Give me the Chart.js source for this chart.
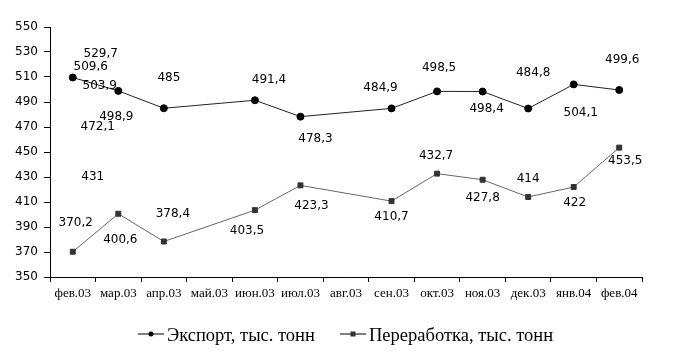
<!DOCTYPE html>
<html>
<head>
<meta charset="utf-8">
<script src="https://cdn.jsdelivr.net/npm/chart.js@4/dist/chart.umd.min.js"></script>
<style>
  body { margin: 0; background: #fff; }
  #wrap { width: 674px; height: 363px; }
</style>
</head>
<body>
<div id="wrap"><canvas id="chart" width="674" height="363"></canvas></div>
<script>
// Months on the x axis
const months = ['фев.03', 'мар.03', 'апр.03', 'май.03', 'июн.03', 'июл.03', 'авг.03',
                'сен.03', 'окт.03', 'ноя.03', 'дек.03', 'янв.04', 'фев.04'];

// Series values (тыс. тонн), no data for май.03 and авг.03
const exportValues = [509.6, 498.9, 485, null, 491.4, 478.3, null, 484.9, 498.5, 498.4, 484.8, 504.1, 499.6];
const processingValues = [370.2, 400.6, 378.4, null, 403.5, 423.3, null, 410.7, 432.7, 427.8, 414, 422, 453.5];

// Y axis ticks
const yMin = 350, yMax = 550, yStep = 20;

// Stray value labels that sit near the first points in the original
const strayLabels = [
    { text: '529,7', series: 0, index: 0 },
    { text: '503,9', series: 0, index: 0 },
    { text: '472,1', series: 0, index: 0 },
    { text: '431', series: 1, index: 0 }
];

// label placement relative to its point, px
const exportLabelOffsets = [[18, -11], [-2, 26], [5, -30], null, [14, -20], [15, 22], null,
                            [-11, -21], [2, -24], [4, 17], [5, -36], [7, 28], [3, -30]];
const processingLabelOffsets = [[3, -29], [2, 26], [9, -28], null, [-8, 21], [11, 20], null,
                                [0, 16], [-1, -18], [0, 18], [0, -18], [1, 16], [6, 13]];
const strayOffsets = [[28, -24], [27, 8], [25, 49], [20, -75]];

const fmt = v => String(v).replace('.', ',');

// Draw the value labels next to the points
const valueLabels = {
    id: 'valueLabels',
    afterDatasetsDraw(chart) {
        const ctx = chart.ctx;
        const offsets = [exportLabelOffsets, processingLabelOffsets];
        ctx.save();
        ctx.font = '12px "DejaVu Sans"';
        ctx.fillStyle = '#000';
        ctx.textAlign = 'center';
        ctx.textBaseline = 'middle';
        chart.data.datasets.forEach((ds, di) => {
            const meta = chart.getDatasetMeta(di);
            ds.data.forEach((v, i) => {
                if (v === null || !offsets[di][i]) return;
                const el = meta.data[i];
                ctx.fillText(fmt(v), el.x + offsets[di][i][0], el.y + offsets[di][i][1]);
            });
        });
        strayLabels.forEach((s, k) => {
            const el = chart.getDatasetMeta(s.series).data[s.index];
            ctx.fillText(s.text, el.x + strayOffsets[k][0], el.y + strayOffsets[k][1]);
        });
        ctx.restore();
    }
};

// Legend with line + marker, like the spreadsheet one
const lineLegend = {
    id: 'lineLegend',
    afterDraw(chart) {
        const ctx = chart.ctx;
        const y = 334;
        const items = [{ x: 138 }, { x: 340 }];
        ctx.save();
        ctx.font = '18.5px "Liberation Serif"';
        ctx.textBaseline = 'middle';
        chart.data.datasets.forEach((ds, i) => {
            const x = items[i].x;
            ctx.strokeStyle = '#000';
            ctx.lineWidth = 1;
            ctx.beginPath();
            ctx.moveTo(x, y);
            ctx.lineTo(x + 26, y);
            ctx.stroke();
            ctx.fillStyle = ds.pointBackgroundColor;
            if (ds.pointStyle === 'rect') {
                ctx.fillRect(x + 10.5, y - 2.5, 5, 5);
            } else {
                ctx.beginPath();
                ctx.arc(x + 13, y, 2.5, 0, Math.PI * 2);
                ctx.fill();
            }
            ctx.fillStyle = '#000';
            ctx.fillText(ds.label, x + 29, y + 2);
        });
        ctx.restore();
    }
};

new Chart(document.getElementById('chart'), {
    type: 'line',
    data: {
        labels: months,
        datasets: [{
            label: 'Экспорт, тыс. тонн',
            data: exportValues,
            borderColor: '#222',
            borderWidth: 1,
            pointStyle: 'circle',
            pointRadius: 3.5,
            pointBackgroundColor: '#000',
            pointBorderColor: '#000',
            pointBorderWidth: 1,
            spanGaps: true,
            tension: 0
        }, {
            label: 'Переработка, тыс. тонн',
            data: processingValues,
            borderColor: '#666',
            borderWidth: 1,
            pointStyle: 'rect',
            pointRadius: 3.5,
            pointBackgroundColor: '#333',
            pointBorderColor: '#333',
            pointBorderWidth: 1,
            spanGaps: true,
            tension: 0
        }]
    },
    options: {
        responsive: false,
        animation: false,
        layout: { padding: { top: 27, right: 32, left: 0, bottom: 0 } },
        scales: {
            x: {
                offset: true,
                grid: { offset: true, drawOnChartArea: false, drawTicks: true, tickLength: 5, color: '#000' },
                border: { display: true, color: '#000' },
                ticks: {
                    color: '#000',
                    font: { family: 'Liberation Serif', size: 13 },
                    maxRotation: 0,
                    autoSkip: false,
                    padding: 4
                },
                afterFit(scale) { scale.height = 86; }
            },
            y: {
                min: yMin,
                max: yMax,
                grid: { drawOnChartArea: false, drawTicks: true, tickLength: 6, color: '#000' },
                border: { display: true, color: '#000' },
                ticks: {
                    stepSize: yStep,
                    color: '#000',
                    font: { family: 'DejaVu Sans', size: 12 },
                    padding: 6
                },
                afterFit(scale) { scale.width = 50; }
            }
        },
        plugins: {
            legend: { display: false },
            tooltip: { enabled: false }
        }
    },
    plugins: [valueLabels, lineLegend]
});
</script>
</body>
</html>
